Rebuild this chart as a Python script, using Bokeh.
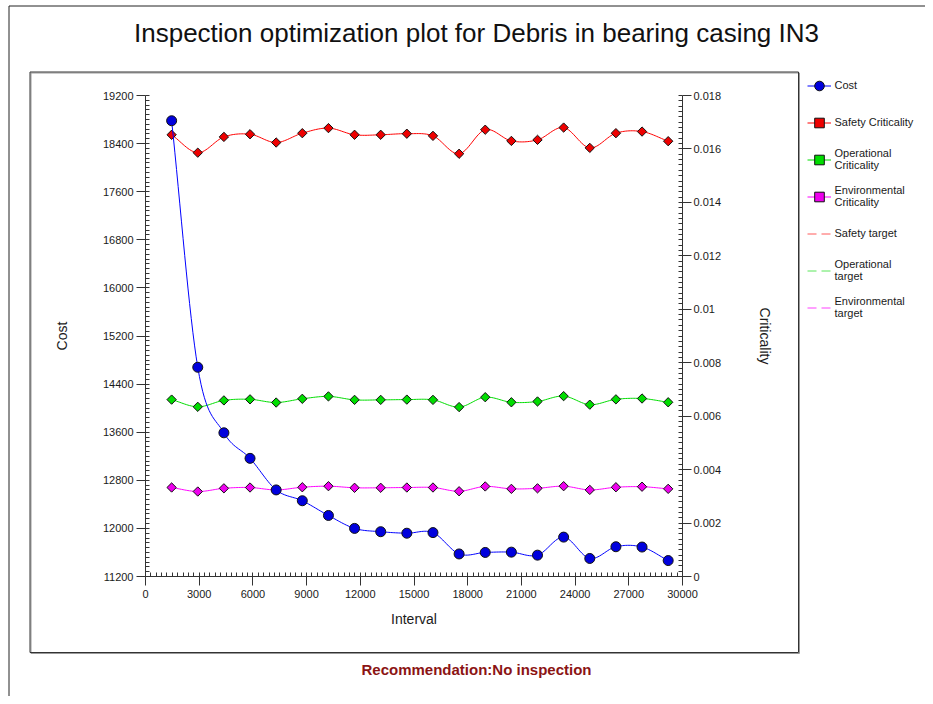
import numpy as np
from bokeh.plotting import figure
from bokeh.models import (Range1d, LinearAxis, FixedTicker, NumeralTickFormatter,
                          Legend, LegendItem, Label, BoxAnnotation)
from bokeh.embed import file_html
from bokeh.resources import INLINE

# ---------------- data ----------------
interval = [1460, 2920, 4380, 5840, 7300, 8760, 10220, 11680, 13140, 14600,
            16060, 17520, 18980, 20440, 21900, 23360, 24820, 26280, 27740, 29200]
cost = [18780, 14680, 13590, 13165, 12640, 12460, 12215, 12000, 11945, 11920,
        11930, 11575, 11600, 11605, 11555, 11855, 11500, 11695, 11690, 11465]
safety = [0.01653, 0.01586, 0.01645, 0.01655, 0.01624, 0.01659, 0.01678, 0.01653,
          0.01653, 0.01657, 0.01649, 0.01582, 0.01672, 0.01630, 0.01634, 0.01680,
          0.01604, 0.01659, 0.01665, 0.01629]
operational = [0.00662, 0.00635, 0.00659, 0.00663, 0.00651, 0.00665, 0.00674, 0.00661,
               0.00661, 0.00662, 0.00661, 0.00634, 0.00671, 0.00652, 0.00655, 0.00675,
               0.00643, 0.00663, 0.00666, 0.00652]
environmental = [0.00333, 0.00318, 0.00330, 0.00333, 0.00324, 0.00334, 0.00338, 0.00332,
                 0.00332, 0.00333, 0.00333, 0.00319, 0.00337, 0.00328, 0.00330, 0.00338,
                 0.00324, 0.00334, 0.00336, 0.00328]
safety_target = 0.0
operational_target = 0.0
environmental_target = 0.0

x_min, x_max = 0, 30000
cost_min, cost_max = 11200, 19200
crit_min, crit_max = 0.0, 0.018
x_ticks = [0, 3000, 6000, 9000, 12000, 15000, 18000, 21000, 24000, 27000, 30000]
cost_ticks = [11200, 12000, 12800, 13600, 14400, 15200, 16000, 16800, 17600, 18400, 19200]
crit_ticks = [0, 0.002, 0.004, 0.006, 0.008, 0.01, 0.012, 0.014, 0.016, 0.018]

title_text = "Inspection optimization plot for Debris in bearing casing IN3"
recommendation = "Recommendation:No inspection"
legend_labels = ["Cost", "Safety Criticality", "Operational\nCriticality",
                 "Environmental\nCriticality", "Safety target", "Operational\ntarget",
                 "Environmental\ntarget"]

FONT = "Liberation Sans"


def smooth(xs, ys, n=16):
    """Catmull-Rom path through the data points (drawing only)."""
    x = np.asarray(xs, float)
    y = np.asarray(ys, float)
    px = np.concatenate([[2 * x[0] - x[1]], x, [2 * x[-1] - x[-2]]])
    py = np.concatenate([[2 * y[0] - y[1]], y, [2 * y[-1] - y[-2]]])
    t = np.linspace(0, 1, n, endpoint=False)
    ox, oy = [], []
    for i in range(len(x) - 1):
        for P, out in ((px, ox), (py, oy)):
            p0, p1, p2, p3 = P[i], P[i + 1], P[i + 2], P[i + 3]
            out.extend(0.5 * (2 * p1 + (-p0 + p2) * t + (2 * p0 - 5 * p1 + 4 * p2 - p3) * t ** 2
                              + (-p0 + 3 * p1 - 3 * p2 + p3) * t ** 3))
    ox.append(x[-1])
    oy.append(y[-1])
    return ox, oy


# ---------------- layout (pixels) ----------------
W, H = 925, 696
AL, AR, AT, AB = 145, 682, 95, 576   # where the axes sit in the canvas

xs = (x_max - x_min) / (AR - AL)
cs_ = (cost_max - cost_min) / (AB - AT)
kr = (crit_max - crit_min) / (AB - AT)
x_range = Range1d(x_min - AL * xs, x_max + (W - AR) * xs)
y_range = Range1d(cost_min - (H - AB) * cs_, cost_max + AT * cs_)
crit_range = Range1d(crit_min - (H - AB) * kr, crit_max + AT * kr)

p = figure(width=W, height=H, output_backend="svg", toolbar_location=None,
           x_range=x_range, y_range=y_range,
           min_border_left=0, min_border_right=0, min_border_top=0, min_border_bottom=0)
p.title.visible = False
p.extra_y_ranges = {"crit": crit_range}
p.outline_line_color = None
p.background_fill_color = "white"
p.border_fill_color = "white"
p.xgrid.visible = False
p.ygrid.visible = False

AX = "#333333"
TXT = "#1a1a1a"


def style_axis(ax, label, standoff, lab_standoff):
    ax.axis_label = label
    ax.axis_line_color = AX
    ax.major_tick_line_color = AX
    ax.minor_tick_line_color = AX
    ax.major_tick_in = 0
    ax.major_tick_out = 9
    ax.minor_tick_in = 4
    ax.minor_tick_out = 0
    ax.major_label_text_font = FONT
    ax.major_label_text_font_size = "11px"
    ax.major_label_text_color = TXT
    ax.major_label_standoff = lab_standoff
    ax.axis_label_text_font = FONT
    ax.axis_label_text_font_size = "14px"
    ax.axis_label_text_font_style = "normal"
    ax.axis_label_text_color = TXT
    ax.axis_label_standoff = standoff


xa = p.xaxis[0]
xa.ticker = FixedTicker(ticks=x_ticks, minor_ticks=list(range(0, 30001, 300)))
xa.bounds = (x_min, x_max)
xa.fixed_location = cost_min
style_axis(xa, "Interval", 10, 4)

ya = p.yaxis[0]
ya.ticker = FixedTicker(ticks=cost_ticks, minor_ticks=list(range(11200, 19201, 80)))
ya.formatter = NumeralTickFormatter(format="0")
ya.bounds = (cost_min, cost_max)
ya.fixed_location = x_min
style_axis(ya, "Cost", 30, 3)

ra = LinearAxis(y_range_name="crit")
ra.ticker = FixedTicker(ticks=crit_ticks, minor_ticks=[i * 0.0002 for i in range(91)])
ra.formatter = NumeralTickFormatter(format="0.[000]")
ra.bounds = (crit_min, crit_max)
ra.fixed_location = x_max
style_axis(ra, "Criticality", 33, 2)
p.add_layout(ra, "right")

# ---------------- series ----------------
t0, t1 = interval[0], interval[-1]
st = p.line([t0, t1], [safety_target] * 2, y_range_name="crit", color="#ff5a5a",
            line_width=1, line_dash="9 5")
ot = p.line([t0, t1], [operational_target] * 2, y_range_name="crit", color="#5ae65a",
            line_width=1, line_dash="9 5")
et = p.line([t0, t1], [environmental_target] * 2, y_range_name="crit", color="#ff40ff",
            line_width=1, line_dash="9 5")

series = [(safety, "#ff0000", "#ee0000"),
          (operational, "#00dd00", "#00dd00"),
          (environmental, "#ff00ff", "#ee00ee")]
crit_r = []
for vals, lc, fc in series:
    sx_, sy_ = smooth(interval, vals)
    ln = p.line(sx_, sy_, y_range_name="crit", color=lc, line_width=1)
    mk = p.scatter(interval, vals, y_range_name="crit", marker="square", angle=np.pi / 4,
                   size=6.6, fill_color=fc, line_color="#111111", line_width=1)
    crit_r.append((ln, mk))

cx, cy = smooth(interval, cost)
cl = p.line(cx, cy, color="#0000ff", line_width=1)
cm = p.scatter(interval, cost, marker="circle", size=10, fill_color="#0000dd",
               line_color="#111111", line_width=1)

items = [LegendItem(label=legend_labels[0], renderers=[cl, cm])]
for lab, (ln, mk) in zip(legend_labels[1:4], crit_r):
    items.append(LegendItem(label=lab, renderers=[ln, mk]))
for lab, r in zip(legend_labels[4:], [st, ot, et]):
    items.append(LegendItem(label=lab, renderers=[r]))

ROW_H = 27
SPACING = 10
LEG_TOP = 71.5
LEG_H = ROW_H * len(items) + SPACING * (len(items) - 1)
legend = Legend(items=items, location=(806.5, H - LEG_TOP - LEG_H), padding=0, margin=0,
                spacing=SPACING, glyph_width=24, glyph_height=ROW_H, label_height=ROW_H,
                label_standoff=4, label_text_font=FONT, label_text_font_size="11px",
                label_text_color=TXT, label_text_line_height=1.18, border_line_alpha=0,
                background_fill_alpha=0)
p.add_layout(legend)


# ---------------- frames & texts (screen px; y measured up from the bottom) ----------------
def box(l, t, r, b, color):
    return BoxAnnotation(left=l, right=r, top=H - t, bottom=H - b,
                         left_units="screen", right_units="screen", top_units="screen",
                         bottom_units="screen", fill_alpha=0, line_color=color,
                         line_width=1, line_alpha=1)


p.add_layout(box(8.5, 5.5, 3000, 3000, "#222222"))     # outer frame
p.add_layout(box(30.5, 72.5, 799, 653, "#999999"))     # soft shadow
p.add_layout(box(29.5, 71.5, 798, 652, "#333333"))     # chart box

p.add_layout(Label(x=476, y=H - 32, x_units="screen", y_units="screen",
                   text=title_text, text_font=FONT, text_font_size="26px",
                   text_color="#111111", text_align="center", text_baseline="middle"))
p.add_layout(Label(x=476, y=H - 669, x_units="screen", y_units="screen",
                   text=recommendation, text_font=FONT, text_font_size="15px",
                   text_font_style="bold", text_color="#8b1414", text_align="center",
                   text_baseline="middle"))

open("out.html", "w").write(file_html(p, INLINE))
